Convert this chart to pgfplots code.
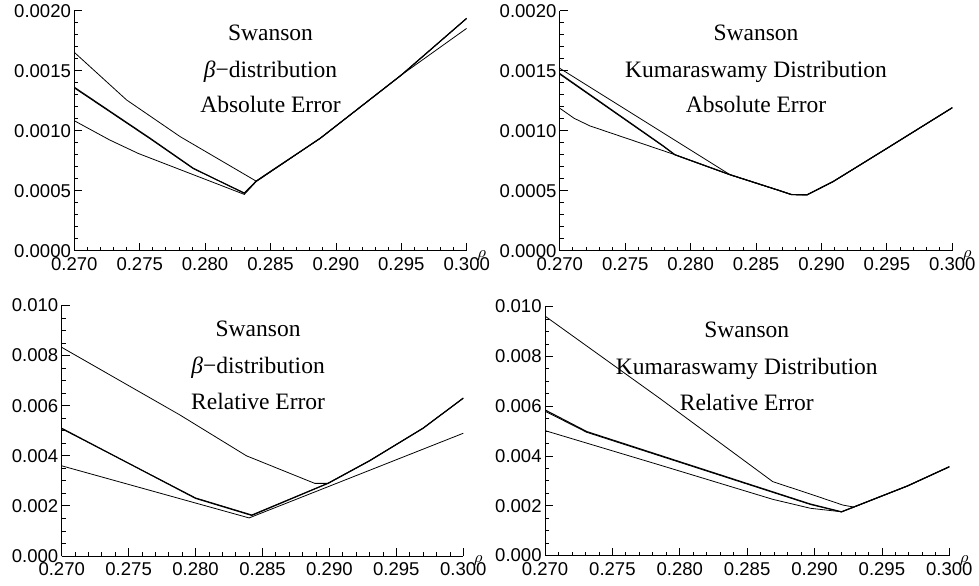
\documentclass[border=0pt]{standalone}
\usepackage{fontspec}
\setmainfont{Liberation Serif}
\newfontfamily\sansf{Liberation Sans}
\usepackage{pgfplots}
\pgfplotsset{compat=1.18}
\pgfplotsset{
  mm/.style={
    scale only axis,
    anchor=south west,
    axis lines*=left,
    axis line style={line width=0.5bp},
    tick align=inside,
    xmin=0.27, xmax=0.30,
    xtick={0.27,0.275,0.28,0.285,0.29,0.295,0.30},
    minor x tick num=4,
    scaled ticks=false,
    tick style={line width=0.4bp, black},
    major tick length=4bp,
    minor tick length=2bp,
    ticklabel style={font=\sansf\fontsize{9.3}{10}\selectfont},
    /pgf/number format/assume math mode=true,
    xticklabel style={/pgf/number format/.cd, fixed, fixed zerofill, precision=3},
    yticklabel style={inner xsep=1.5bp},
    xlabel={$\rho$},
    every axis x label/.style={at={(rel axis cs:1,0)}, anchor=center, xshift=7.5bp, yshift=-2.5bp, font=\fontsize{8.5}{8.5}\selectfont},
    cycle list={{black, line width=0.55bp, mark=none}},
  },
}
\tikzset{tf/.style={font=\fontsize{11.8}{12}\selectfont, anchor=base, inner sep=0pt}}
\begin{document}
\begin{tikzpicture}
\path[use as bounding box] (0,0) rectangle (489.5bp,293bp);
% ---------- Panel 1
\begin{axis}[mm, at={(37.15bp,167.65bp)}, width=196.2bp, height=120bp,
  ymin=0, ymax=0.002, ytick={0,0.0005,0.001,0.0015,0.002}, minor y tick num=4,
  yticklabel style={/pgf/number format/.cd, fixed, fixed zerofill, precision=4}]
\addplot coordinates {(0.270,0.001653) (0.274,0.001256) (0.2781,0.00095) (0.2839,0.00058) (0.2888,0.000937) (0.2950,0.001464) (0.300,0.001853)};
\addplot coordinates {(0.270,0.001362) (0.2758,0.000937) (0.2791,0.000687) (0.2830,0.000478) (0.2839,0.00058) (0.2888,0.000937) (0.2950,0.001464) (0.300,0.001937)};
\addplot coordinates {(0.270,0.001356) (0.2758,0.000932) (0.2791,0.000683) (0.2830,0.000482) (0.2839,0.000578) (0.2888,0.000935) (0.2950,0.001462) (0.300,0.001935)};
\addplot coordinates {(0.270,0.001083) (0.2727,0.000923) (0.2749,0.00081) (0.2830,0.000469) (0.2839,0.000575) (0.2888,0.000937) (0.2950,0.001464) (0.300,0.001937)};
\node[tf] at (rel axis cs:0.5,0.875) {Swanson};
\node[tf] at (rel axis cs:0.5,0.7225) {{\itshape β}−distribution};
\node[tf] at (rel axis cs:0.5,0.575) {Absolute Error};
\end{axis}
% ---------- Panel 2
\begin{axis}[mm, at={(279.9bp,167.65bp)}, width=196.25bp, height=120bp,
  ymin=0, ymax=0.002, ytick={0,0.0005,0.001,0.0015,0.002}, minor y tick num=4,
  yticklabel style={/pgf/number format/.cd, fixed, fixed zerofill, precision=4}]
\addplot coordinates {(0.270,0.00152) (0.2830,0.000634) (0.2870,0.000494) (0.2877,0.000468) (0.2889,0.000466) (0.2909,0.000577) (0.2950,0.000853) (0.300,0.001192)};
\addplot coordinates {(0.270,0.001476) (0.2779,0.000874) (0.2788,0.0008) (0.2830,0.000634) (0.2870,0.000494) (0.2877,0.000468) (0.2889,0.000466) (0.2909,0.000577) (0.2950,0.000853) (0.300,0.001192)};
\addplot coordinates {(0.270,0.00147) (0.2779,0.00087) (0.2788,0.000798) (0.2830,0.000632) (0.2870,0.000492) (0.2877,0.000466) (0.2889,0.000464) (0.2909,0.000575) (0.2950,0.000851) (0.300,0.00119)};
\addplot coordinates {(0.270,0.001187) (0.2711,0.001103) (0.2723,0.00104) (0.2788,0.0008) (0.2830,0.000634) (0.2870,0.000494) (0.2877,0.000468) (0.2889,0.000466) (0.2909,0.000577) (0.2950,0.000853) (0.300,0.001192)};
\node[tf] at (rel axis cs:0.5,0.875) {Swanson};
\node[tf] at (rel axis cs:0.5,0.7225) {Kumaraswamy Distribution};
\node[tf] at (rel axis cs:0.5,0.575) {Absolute Error};
\end{axis}
% ---------- Panel 3
\begin{axis}[mm, at={(30.85bp,15bp)}, width=200.8bp, height=125.25bp,
  ymin=0, ymax=0.01, ytick={0,0.002,0.004,0.006,0.008,0.01}, minor y tick num=3,
  yticklabel style={/pgf/number format/.cd, fixed, fixed zerofill, precision=3}]
\addplot coordinates {(0.270,0.00833) (0.2788,0.00564) (0.2838,0.004) (0.2889,0.0029) (0.2899,0.0029) (0.293,0.0038) (0.297,0.0051) (0.300,0.0063)};
\addplot coordinates {(0.270,0.0051) (0.280,0.0023) (0.2842,0.00162) (0.2899,0.0029) (0.293,0.0038) (0.297,0.0051) (0.300,0.0063)};
\addplot coordinates {(0.270,0.00508) (0.280,0.00232) (0.2842,0.00164) (0.2899,0.00291) (0.293,0.00381) (0.297,0.00511) (0.300,0.00631)};
\addplot coordinates {(0.270,0.0036) (0.284,0.00152) (0.300,0.0049)};
\node[tf] at (rel axis cs:0.489,0.8755) {Swanson};
\node[tf] at (rel axis cs:0.489,0.729) {{\itshape β}−distribution};
\node[tf] at (rel axis cs:0.489,0.583) {Relative Error};
\end{axis}
% ---------- Panel 4
\begin{axis}[mm, at={(272.5bp,15.2bp)}, width=202.15bp, height=124.5bp,
  ymin=0, ymax=0.01, ytick={0,0.002,0.004,0.006,0.008,0.01}, minor y tick num=3,
  yticklabel style={/pgf/number format/.cd, fixed, fixed zerofill, precision=3}]
\addplot coordinates {(0.270,0.00962) (0.2785,0.00632) (0.2869,0.00297) (0.2897,0.00247) (0.2921,0.00203) (0.2929,0.00195) (0.2969,0.0028) (0.300,0.00357)};
\addplot coordinates {(0.270,0.00585) (0.2731,0.00498) (0.2897,0.00207) (0.2920,0.00176) (0.2929,0.00195) (0.2969,0.0028) (0.300,0.00357)};
\addplot coordinates {(0.270,0.0058) (0.2731,0.00495) (0.2897,0.00205) (0.2920,0.00175) (0.2929,0.00194) (0.2969,0.00279) (0.300,0.00356)};
\addplot coordinates {(0.270,0.00502) (0.2785,0.00364) (0.2869,0.00226) (0.2897,0.0019) (0.2920,0.00176) (0.2929,0.00195) (0.2969,0.0028) (0.300,0.00357)};
\node[tf] at (rel axis cs:0.499,0.8755) {Swanson};
\node[tf] at (rel axis cs:0.499,0.729) {Kumaraswamy Distribution};
\node[tf] at (rel axis cs:0.499,0.583) {Relative Error};
\end{axis}
\end{tikzpicture}
\end{document}
